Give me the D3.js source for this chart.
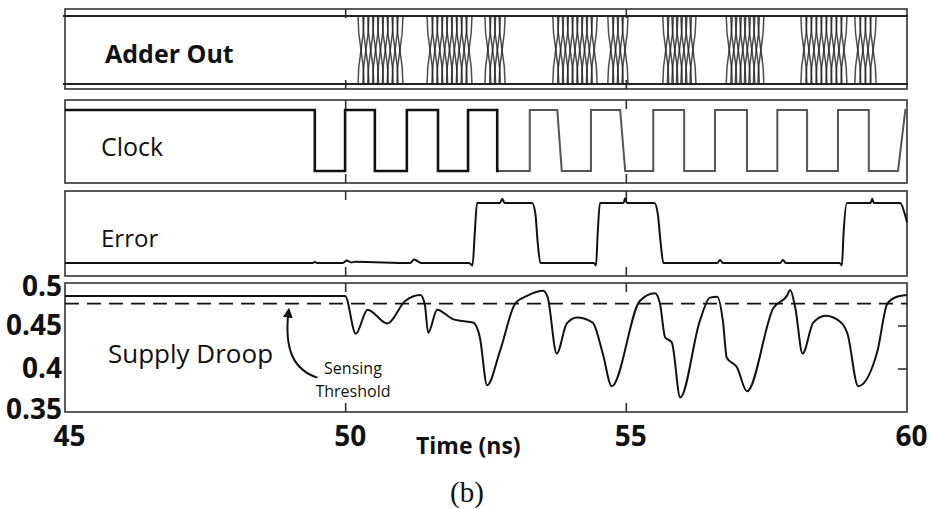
<!DOCTYPE html>
<html><head><meta charset="utf-8">
<script src="https://cdn.jsdelivr.net/npm/d3@7"></script>
<style>
html,body{margin:0;padding:0;background:#fff;}
svg text{font-family:"Open Sans",sans-serif;fill:#111;}
</style></head>
<body><svg id="chart" width="931" height="509"></svg>
<script>
// ---------- data ----------
const timeTicks = [45, 50, 55, 60];
const timeTickLabels = ["45", "50", "55", "60"];
const innerTicks = [50, 55];
const droopTicks = [0.35, 0.4, 0.45, 0.5];
const droopTickLabels = ["0.35", "0.4", "0.45", "0.5"];
const threshold = 0.476;

// Adder Out: bursts of switching activity (start, end in ns)
const burstStart = [50.22, 51.45, 52.48, 53.69, 54.67, 55.65, 56.78, 58.11, 59.07];
const burstEnd   = [51.02, 52.25, 52.84, 54.48, 55.03, 56.24, 57.45, 58.93, 59.45];

// Clock (1 = high, 0 = low)
const clockT = [45, 49.45, 49.45, 49.99, 49.99, 50.52, 50.52, 51.09, 51.09, 51.645, 51.645, 52.18, 52.18, 52.70, 52.70, 53.28, 53.28, 53.77, 53.85, 54.37, 54.37, 54.89, 54.98, 55.48, 55.48, 56.03, 56.03, 56.58, 56.58, 57.15, 57.15, 57.69, 57.69, 58.22, 58.22, 58.77, 58.77, 59.32, 59.32, 59.84, 59.97, 60.0];
const clockV = [1, 1, 0, 0, 1, 1, 0, 0, 1, 1, 0, 0, 1, 1, 0, 0, 1, 1, 0, 0, 1, 1, 0, 0, 1, 1, 0, 0, 1, 1, 0, 0, 1, 1, 0, 0, 1, 1, 0, 0, 1, 1];

// Error flag
const errorT = [45, 49.4, 49.45, 49.5, 49.95, 50.02, 50.1, 50.17, 51.15, 51.22, 51.28, 51.35, 52.2, 52.26, 52.30, 52.34, 52.75, 52.79, 52.83, 53.32, 53.38, 53.42, 53.47, 54.42, 54.46, 54.49, 54.53, 54.95, 54.98, 55.01, 55.5, 55.56, 55.61, 55.66, 56.62, 56.67, 56.72, 57.74, 57.79, 57.84, 58.80, 58.84, 58.87, 58.93, 59.35, 59.38, 59.41, 59.88, 59.95, 60.0];
const errorV = [0, 0, 0.015, 0, 0, 0.04, 0.01, 0.02, 0, 0.06, 0.03, 0, 0, -0.04, 0.5, 1.0, 1.0, 1.07, 1.0, 1.0, 0.82, 0.35, 0, 0, -0.04, 0.5, 1.0, 1.0, 1.08, 1.0, 1.0, 0.82, 0.35, 0, 0, 0.05, 0, 0, 0.05, 0, 0, -0.04, 0.5, 1.0, 1.0, 1.07, 1.0, 1.0, 0.85, 0.68];

// Supply droop (V)
const droopT = [45, 49.99, 50.18, 50.39, 50.74, 51.06, 51.33, 51.41, 51.47, 51.63, 51.91, 52.04, 52.27, 52.39, 52.52, 52.75, 53.02, 53.23, 53.52, 53.60, 53.76, 53.94, 54.12, 54.40, 54.58, 54.74, 55.24, 55.51, 55.60, 55.69, 55.81, 55.96, 56.31, 56.49, 56.62, 56.72, 56.79, 56.97, 57.15, 57.62, 57.86, 57.92, 58.01, 58.14, 58.33, 58.55, 58.81, 58.94, 59.13, 59.47, 59.65, 59.82, 60.0];
const droopV = [0.485, 0.485, 0.441, 0.469, 0.453, 0.479, 0.486, 0.475, 0.442, 0.469, 0.458, 0.456, 0.454, 0.437, 0.381, 0.421, 0.476, 0.485, 0.491, 0.483, 0.418, 0.453, 0.460, 0.454, 0.418, 0.380, 0.479, 0.488, 0.476, 0.437, 0.431, 0.367, 0.456, 0.483, 0.484, 0.456, 0.413, 0.402, 0.374, 0.471, 0.485, 0.492, 0.471, 0.418, 0.454, 0.462, 0.455, 0.441, 0.380, 0.420, 0.476, 0.484, 0.486];

// ---------- layout ----------
const svg = d3.select("#chart");
const x = d3.scaleLinear().domain([45, 60]).range([65, 907]);
const panels = {
  adder: {top: 9, bottom: 89},
  clock: {top: 100, bottom: 183},
  error: {top: 191, bottom: 276},
  droop: {top: 283, bottom: 412}
};
const yA = d3.scaleLinear().domain([0, 1]).range([84, 16]);
const yC = d3.scaleLinear().domain([0, 1]).range([171, 110]);
const yE = d3.scaleLinear().domain([0, 1]).range([263, 203]);
const yS = d3.scaleLinear().domain([0.35, 0.5]).range([412, 283]);

// frames and inner ticks
Object.values(panels).forEach(p => {
  svg.append("rect").attr("x", x(45)).attr("y", p.top)
    .attr("width", x(60) - x(45)).attr("height", p.bottom - p.top)
    .attr("fill", "none").attr("stroke", "#333").attr("stroke-width", 1.6);
  innerTicks.forEach(t => {
    svg.append("line").attr("x1", x(t)).attr("x2", x(t)).attr("y1", p.top).attr("y2", p.top + 9)
      .attr("stroke", "#333").attr("stroke-width", 1.6);
    svg.append("line").attr("x1", x(t)).attr("x2", x(t)).attr("y1", p.bottom - 9).attr("y2", p.bottom)
      .attr("stroke", "#333").attr("stroke-width", 1.6);
  });
});

// ---------- Adder Out ----------
[1, 0].forEach(v => {
  svg.append("line").attr("x1", x(45) - 2).attr("x2", x(60) + 1)
    .attr("y1", yA(v)).attr("y2", yA(v)).attr("stroke", "#222").attr("stroke-width", 2);
});
const burstG = svg.append("g").attr("fill", "none").attr("stroke", "#222")
  .attr("stroke-width", 1.5).attr("stroke-opacity", 0.8);
burstStart.forEach((s, i) => {
  const x0 = x(s), x1 = x(burstEnd[i]);
  const w = 6;
  const n = Math.max(2, Math.round((x1 - x0) / 5));
  const step = (x1 - x0 - w) / (n - 1);
  const top = yA(1), bot = yA(0), mid = (top + bot) / 2;
  for (let k = 0; k < n; k++) {
    const a = x0 + k * step, b = a + w;
    burstG.append("path").attr("d", `M${a},${top} C${a},${mid} ${b},${mid} ${b},${bot}`);
    burstG.append("path").attr("d", `M${a},${bot} C${a},${mid} ${b},${mid} ${b},${top}`);
  }
});
svg.append("text").attr("x", 105).attr("y", 63).attr("font-size", 25).attr("font-weight", 700).text("Adder Out");

// ---------- Clock ----------
const clockData = clockT.map((t, i) => [t, clockV[i]]);
const clockLine = d3.line().x(d => x(d[0])).y(d => yC(d[1]));
const defs = svg.append("defs");
defs.append("clipPath").attr("id", "clipA").append("rect").attr("x", 0).attr("y", 0).attr("width", x(52.74)).attr("height", 509);
defs.append("clipPath").attr("id", "clipB").append("rect").attr("x", x(52.74)).attr("y", 0).attr("width", 931).attr("height", 509);
svg.append("path").datum(clockData).attr("d", clockLine).attr("fill", "none")
  .attr("stroke", "#111").attr("stroke-width", 2.6).attr("clip-path", "url(#clipA)");
svg.append("path").datum(clockData).attr("d", clockLine).attr("fill", "none")
  .attr("stroke", "#555").attr("stroke-width", 2).attr("clip-path", "url(#clipB)");
svg.append("text").attr("x", 101).attr("y", 156).attr("font-size", 25).text("Clock");

// ---------- Error ----------
const errorData = errorT.map((t, i) => [t, errorV[i]]);
svg.append("path").datum(errorData)
  .attr("d", d3.line().x(d => x(d[0])).y(d => yE(d[1])).curve(d3.curveMonotoneX))
  .attr("fill", "none").attr("stroke", "#111").attr("stroke-width", 2);
svg.append("text").attr("x", 101).attr("y", 247).attr("font-size", 24).text("Error");

// ---------- Supply Droop ----------
svg.append("line").attr("x1", x(45)).attr("x2", x(60)).attr("y1", yS(threshold)).attr("y2", yS(threshold))
  .attr("stroke", "#111").attr("stroke-width", 1.6).attr("stroke-dasharray", "14,8");
const droopData = droopT.map((t, i) => [t, droopV[i]]);
svg.append("path").datum(droopData)
  .attr("d", d3.line().x(d => x(d[0])).y(d => yS(d[1])).curve(d3.curveMonotoneX))
  .attr("fill", "none").attr("stroke", "#111").attr("stroke-width", 2);
// right-side inner ticks
[0.4, 0.45].forEach(v => {
  svg.append("line").attr("x1", x(60) - 9).attr("x2", x(60)).attr("y1", yS(v)).attr("y2", yS(v))
    .attr("stroke", "#333").attr("stroke-width", 1.6);
});
svg.append("text").attr("x", 108).attr("y", 363).attr("font-size", 26).text("Supply Droop");

// annotation: sensing threshold
defs.append("marker").attr("id", "arrow").attr("viewBox", "0 0 10 10").attr("refX", 5).attr("refY", 5)
  .attr("markerWidth", 5).attr("markerHeight", 5).attr("orient", "auto-start-reverse")
  .append("path").attr("d", "M0,0 L10,5 L0,10 z").attr("fill", "#111");
const tipX = x(48.98), tipY = yS(threshold) + 4;
svg.append("path")
  .attr("d", `M${tipX + 29},${tipY + 70} C${tipX + 4},${tipY + 62} ${tipX - 4},${tipY + 40} ${tipX},${tipY + 5}`)
  .attr("fill", "none").attr("stroke", "#111").attr("stroke-width", 2).attr("marker-end", "url(#arrow)");
svg.append("text").attr("x", x(50.13)).attr("y", 374).attr("text-anchor", "middle").attr("font-size", 16).attr("fill", "#222").text("Sensing");
svg.append("text").attr("x", x(50.13)).attr("y", 397).attr("text-anchor", "middle").attr("font-size", 16).attr("fill", "#222").text("Threshold");

// axes
const yAxis = d3.axisLeft(yS).tickValues(droopTicks).tickSize(0).tickPadding(3)
  .tickFormat((d, i) => droopTickLabels[i]);
const yg = svg.append("g").attr("transform", `translate(${x(45)},0)`).call(yAxis);
yg.select(".domain").remove();
yg.selectAll("text").attr("font-size", 28).attr("font-weight", 700).attr("font-family", "Open Sans").attr("fill", "#111");
yg.selectAll(".tick").filter(d => d === 0.5).select("text").attr("y", 4);
yg.selectAll(".tick").filter(d => d === 0.35).select("text").attr("y", -2);

const xAxis = d3.axisBottom(x).tickValues(timeTicks).tickSize(0).tickPadding(14)
  .tickFormat((d, i) => timeTickLabels[i]);
const xg = svg.append("g").attr("transform", `translate(4,${panels.droop.bottom})`).call(xAxis);
xg.select(".domain").remove();
xg.selectAll("text").attr("font-size", 28).attr("font-weight", 700).attr("font-family", "Open Sans").attr("fill", "#111");

svg.append("text").attr("x", 416).attr("y", 454).attr("font-size", 23).attr("font-weight", 700).text("Time (ns)");
svg.append("text").attr("x", 467).attr("y", 502).attr("text-anchor", "middle")
  .style("font-family", "'Liberation Serif', serif").attr("font-size", 29).text("(b)");
</script></body></html>
